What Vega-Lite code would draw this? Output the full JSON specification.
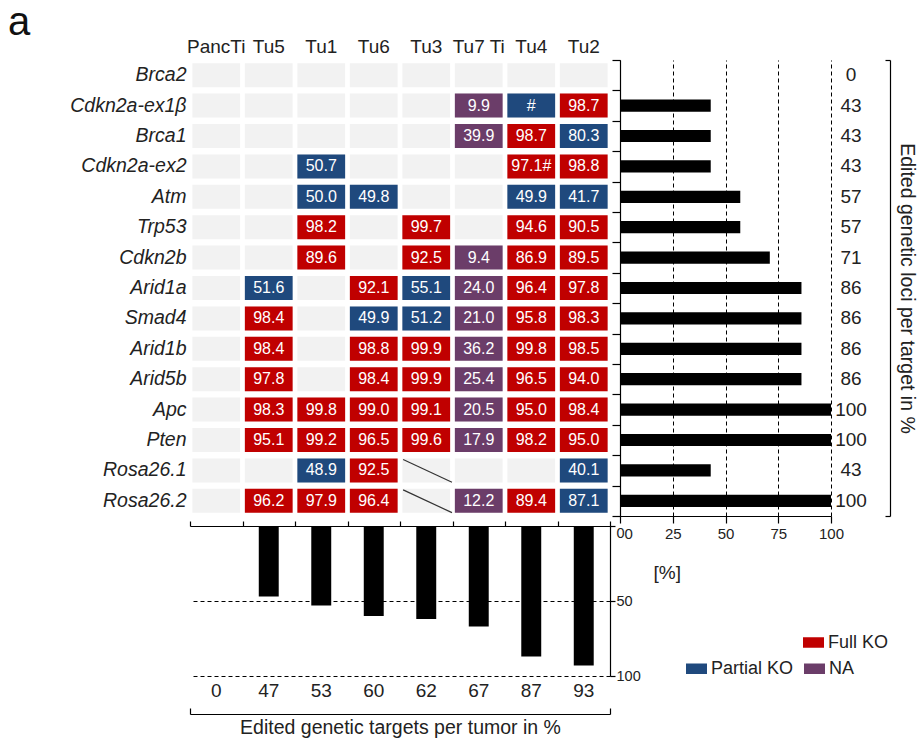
{
  "$schema": "https://vega.github.io/schema/vega-lite/v6.json",
  "padding": {"left": 8, "top": 3, "right": 2, "bottom": 2},
  "title": {"text": "a", "anchor": "start", "frame": "group", "fontSize": 40, "fontWeight": "normal", "color": "#111", "dx": -182, "offset": -6},
  "datasets": {
    "cells": [
      {"gene": "Brca2", "tumor": "PancTi"}, {"gene": "Brca2", "tumor": "Tu5"}, {"gene": "Brca2", "tumor": "Tu1"}, {"gene": "Brca2", "tumor": "Tu6"},
      {"gene": "Brca2", "tumor": "Tu3"}, {"gene": "Brca2", "tumor": "Tu7 Ti"}, {"gene": "Brca2", "tumor": "Tu4"}, {"gene": "Brca2", "tumor": "Tu2"},
      {"gene": "Cdkn2a-ex1β", "tumor": "PancTi"}, {"gene": "Cdkn2a-ex1β", "tumor": "Tu5"}, {"gene": "Cdkn2a-ex1β", "tumor": "Tu1"}, {"gene": "Cdkn2a-ex1β", "tumor": "Tu6"},
      {"gene": "Cdkn2a-ex1β", "tumor": "Tu3"}, {"gene": "Cdkn2a-ex1β", "tumor": "Tu7 Ti", "value": "9.9", "status": "NA"},
      {"gene": "Cdkn2a-ex1β", "tumor": "Tu4", "value": "#", "status": "Partial KO"}, {"gene": "Cdkn2a-ex1β", "tumor": "Tu2", "value": "98.7", "status": "Full KO"},
      {"gene": "Brca1", "tumor": "PancTi"}, {"gene": "Brca1", "tumor": "Tu5"}, {"gene": "Brca1", "tumor": "Tu1"}, {"gene": "Brca1", "tumor": "Tu6"},
      {"gene": "Brca1", "tumor": "Tu3"}, {"gene": "Brca1", "tumor": "Tu7 Ti", "value": "39.9", "status": "NA"},
      {"gene": "Brca1", "tumor": "Tu4", "value": "98.7", "status": "Full KO"}, {"gene": "Brca1", "tumor": "Tu2", "value": "80.3", "status": "Partial KO"},
      {"gene": "Cdkn2a-ex2", "tumor": "PancTi"}, {"gene": "Cdkn2a-ex2", "tumor": "Tu5"}, {"gene": "Cdkn2a-ex2", "tumor": "Tu1", "value": "50.7", "status": "Partial KO"},
      {"gene": "Cdkn2a-ex2", "tumor": "Tu6"}, {"gene": "Cdkn2a-ex2", "tumor": "Tu3"}, {"gene": "Cdkn2a-ex2", "tumor": "Tu7 Ti"},
      {"gene": "Cdkn2a-ex2", "tumor": "Tu4", "value": "97.1#", "status": "Full KO"}, {"gene": "Cdkn2a-ex2", "tumor": "Tu2", "value": "98.8", "status": "Full KO"},
      {"gene": "Atm", "tumor": "PancTi"}, {"gene": "Atm", "tumor": "Tu5"}, {"gene": "Atm", "tumor": "Tu1", "value": "50.0", "status": "Partial KO"},
      {"gene": "Atm", "tumor": "Tu6", "value": "49.8", "status": "Partial KO"}, {"gene": "Atm", "tumor": "Tu3"}, {"gene": "Atm", "tumor": "Tu7 Ti"},
      {"gene": "Atm", "tumor": "Tu4", "value": "49.9", "status": "Partial KO"}, {"gene": "Atm", "tumor": "Tu2", "value": "41.7", "status": "Partial KO"},
      {"gene": "Trp53", "tumor": "PancTi"}, {"gene": "Trp53", "tumor": "Tu5"}, {"gene": "Trp53", "tumor": "Tu1", "value": "98.2", "status": "Full KO"},
      {"gene": "Trp53", "tumor": "Tu6"}, {"gene": "Trp53", "tumor": "Tu3", "value": "99.7", "status": "Full KO"}, {"gene": "Trp53", "tumor": "Tu7 Ti"},
      {"gene": "Trp53", "tumor": "Tu4", "value": "94.6", "status": "Full KO"}, {"gene": "Trp53", "tumor": "Tu2", "value": "90.5", "status": "Full KO"},
      {"gene": "Cdkn2b", "tumor": "PancTi"}, {"gene": "Cdkn2b", "tumor": "Tu5"}, {"gene": "Cdkn2b", "tumor": "Tu1", "value": "89.6", "status": "Full KO"},
      {"gene": "Cdkn2b", "tumor": "Tu6"}, {"gene": "Cdkn2b", "tumor": "Tu3", "value": "92.5", "status": "Full KO"}, {"gene": "Cdkn2b", "tumor": "Tu7 Ti", "value": "9.4", "status": "NA"},
      {"gene": "Cdkn2b", "tumor": "Tu4", "value": "86.9", "status": "Full KO"}, {"gene": "Cdkn2b", "tumor": "Tu2", "value": "89.5", "status": "Full KO"},
      {"gene": "Arid1a", "tumor": "PancTi"}, {"gene": "Arid1a", "tumor": "Tu5", "value": "51.6", "status": "Partial KO"}, {"gene": "Arid1a", "tumor": "Tu1"},
      {"gene": "Arid1a", "tumor": "Tu6", "value": "92.1", "status": "Full KO"}, {"gene": "Arid1a", "tumor": "Tu3", "value": "55.1", "status": "Partial KO"},
      {"gene": "Arid1a", "tumor": "Tu7 Ti", "value": "24.0", "status": "NA"}, {"gene": "Arid1a", "tumor": "Tu4", "value": "96.4", "status": "Full KO"},
      {"gene": "Arid1a", "tumor": "Tu2", "value": "97.8", "status": "Full KO"},
      {"gene": "Smad4", "tumor": "PancTi"}, {"gene": "Smad4", "tumor": "Tu5", "value": "98.4", "status": "Full KO"}, {"gene": "Smad4", "tumor": "Tu1"},
      {"gene": "Smad4", "tumor": "Tu6", "value": "49.9", "status": "Partial KO"}, {"gene": "Smad4", "tumor": "Tu3", "value": "51.2", "status": "Partial KO"},
      {"gene": "Smad4", "tumor": "Tu7 Ti", "value": "21.0", "status": "NA"}, {"gene": "Smad4", "tumor": "Tu4", "value": "95.8", "status": "Full KO"},
      {"gene": "Smad4", "tumor": "Tu2", "value": "98.3", "status": "Full KO"},
      {"gene": "Arid1b", "tumor": "PancTi"}, {"gene": "Arid1b", "tumor": "Tu5", "value": "98.4", "status": "Full KO"}, {"gene": "Arid1b", "tumor": "Tu1"},
      {"gene": "Arid1b", "tumor": "Tu6", "value": "98.8", "status": "Full KO"}, {"gene": "Arid1b", "tumor": "Tu3", "value": "99.9", "status": "Full KO"},
      {"gene": "Arid1b", "tumor": "Tu7 Ti", "value": "36.2", "status": "NA"}, {"gene": "Arid1b", "tumor": "Tu4", "value": "99.8", "status": "Full KO"},
      {"gene": "Arid1b", "tumor": "Tu2", "value": "98.5", "status": "Full KO"},
      {"gene": "Arid5b", "tumor": "PancTi"}, {"gene": "Arid5b", "tumor": "Tu5", "value": "97.8", "status": "Full KO"}, {"gene": "Arid5b", "tumor": "Tu1"},
      {"gene": "Arid5b", "tumor": "Tu6", "value": "98.4", "status": "Full KO"}, {"gene": "Arid5b", "tumor": "Tu3", "value": "99.9", "status": "Full KO"},
      {"gene": "Arid5b", "tumor": "Tu7 Ti", "value": "25.4", "status": "NA"}, {"gene": "Arid5b", "tumor": "Tu4", "value": "96.5", "status": "Full KO"},
      {"gene": "Arid5b", "tumor": "Tu2", "value": "94.0", "status": "Full KO"},
      {"gene": "Apc", "tumor": "PancTi"}, {"gene": "Apc", "tumor": "Tu5", "value": "98.3", "status": "Full KO"}, {"gene": "Apc", "tumor": "Tu1", "value": "99.8", "status": "Full KO"},
      {"gene": "Apc", "tumor": "Tu6", "value": "99.0", "status": "Full KO"}, {"gene": "Apc", "tumor": "Tu3", "value": "99.1", "status": "Full KO"},
      {"gene": "Apc", "tumor": "Tu7 Ti", "value": "20.5", "status": "NA"}, {"gene": "Apc", "tumor": "Tu4", "value": "95.0", "status": "Full KO"},
      {"gene": "Apc", "tumor": "Tu2", "value": "98.4", "status": "Full KO"},
      {"gene": "Pten", "tumor": "PancTi"}, {"gene": "Pten", "tumor": "Tu5", "value": "95.1", "status": "Full KO"}, {"gene": "Pten", "tumor": "Tu1", "value": "99.2", "status": "Full KO"},
      {"gene": "Pten", "tumor": "Tu6", "value": "96.5", "status": "Full KO"}, {"gene": "Pten", "tumor": "Tu3", "value": "99.6", "status": "Full KO"},
      {"gene": "Pten", "tumor": "Tu7 Ti", "value": "17.9", "status": "NA"}, {"gene": "Pten", "tumor": "Tu4", "value": "98.2", "status": "Full KO"},
      {"gene": "Pten", "tumor": "Tu2", "value": "95.0", "status": "Full KO"},
      {"gene": "Rosa26.1", "tumor": "PancTi"}, {"gene": "Rosa26.1", "tumor": "Tu5"}, {"gene": "Rosa26.1", "tumor": "Tu1", "value": "48.9", "status": "Partial KO"},
      {"gene": "Rosa26.1", "tumor": "Tu6", "value": "92.5", "status": "Full KO"}, {"gene": "Rosa26.1", "tumor": "Tu3", "status": "excluded"},
      {"gene": "Rosa26.1", "tumor": "Tu7 Ti"}, {"gene": "Rosa26.1", "tumor": "Tu4"}, {"gene": "Rosa26.1", "tumor": "Tu2", "value": "40.1", "status": "Partial KO"},
      {"gene": "Rosa26.2", "tumor": "PancTi"}, {"gene": "Rosa26.2", "tumor": "Tu5", "value": "96.2", "status": "Full KO"}, {"gene": "Rosa26.2", "tumor": "Tu1", "value": "97.9", "status": "Full KO"},
      {"gene": "Rosa26.2", "tumor": "Tu6", "value": "96.4", "status": "Full KO"}, {"gene": "Rosa26.2", "tumor": "Tu3", "status": "excluded"},
      {"gene": "Rosa26.2", "tumor": "Tu7 Ti", "value": "12.2", "status": "NA"}, {"gene": "Rosa26.2", "tumor": "Tu4", "value": "89.4", "status": "Full KO"},
      {"gene": "Rosa26.2", "tumor": "Tu2", "value": "87.1", "status": "Partial KO"}
    ],
    "loci": [
      {"gene": "Brca2", "loci": 0}, {"gene": "Cdkn2a-ex1β", "loci": 43}, {"gene": "Brca1", "loci": 43}, {"gene": "Cdkn2a-ex2", "loci": 43},
      {"gene": "Atm", "loci": 57}, {"gene": "Trp53", "loci": 57}, {"gene": "Cdkn2b", "loci": 71}, {"gene": "Arid1a", "loci": 86},
      {"gene": "Smad4", "loci": 86}, {"gene": "Arid1b", "loci": 86}, {"gene": "Arid5b", "loci": 86}, {"gene": "Apc", "loci": 100},
      {"gene": "Pten", "loci": 100}, {"gene": "Rosa26.1", "loci": 43}, {"gene": "Rosa26.2", "loci": 100}
    ],
    "targets": [
      {"tumor": "PancTi", "pct": 0}, {"tumor": "Tu5", "pct": 47}, {"tumor": "Tu1", "pct": 53}, {"tumor": "Tu6", "pct": 60},
      {"tumor": "Tu3", "pct": 62}, {"tumor": "Tu7 Ti", "pct": 67}, {"tumor": "Tu4", "pct": 87}, {"tumor": "Tu2", "pct": 93}
    ]
  },
  "columns": 2,
  "bounds": "flush",
  "spacing": {"row": 10, "column": 10},
  "concat": [
    {
      "width": 420,
      "height": 456,
      "data": {"name": "cells"},
      "encoding": {
        "x": {"field": "tumor", "type": "nominal",
          "scale": {"domain": ["PancTi", "Tu5", "Tu1", "Tu6", "Tu3", "Tu7 Ti", "Tu4", "Tu2"], "paddingInner": 0, "paddingOuter": 0},
          "axis": {"orient": "top", "title": null, "ticks": false, "domain": false, "labelAngle": 0, "labelFontSize": 19, "labelPadding": 4}},
        "y": {"field": "gene", "type": "nominal",
          "scale": {"domain": ["Brca2", "Cdkn2a-ex1β", "Brca1", "Cdkn2a-ex2", "Atm", "Trp53", "Cdkn2b", "Arid1a", "Smad4", "Arid1b", "Arid5b", "Apc", "Pten", "Rosa26.1", "Rosa26.2"], "paddingInner": 0, "paddingOuter": 0},
          "axis": {"orient": "left", "title": null, "ticks": false, "domain": false, "labelFontSize": 19.5, "labelFontStyle": "italic", "labelPadding": 4}}
      },
      "layer": [
        {"mark": {"type": "rect", "color": "#f2f2f2", "width": {"band": 0.91}, "height": {"band": 0.79}}},
        {
          "transform": [{"filter": "datum.status === 'Full KO'"}],
          "mark": {"type": "rect", "width": {"band": 0.91}, "height": {"band": 0.79}, "opacity": 1},
          "encoding": {"color": {"field": "status", "type": "nominal",
            "scale": {"domain": ["Full KO"], "range": ["#c00000"]},
            "legend": {"title": null, "orient": "none", "legendX": 613, "legendY": 572}}}
        },
        {
          "transform": [{"filter": "datum.status === 'Partial KO' || datum.status === 'NA'"}],
          "mark": {"type": "rect", "width": {"band": 0.91}, "height": {"band": 0.79}, "opacity": 1},
          "encoding": {"color": {"field": "status", "type": "nominal",
            "scale": {"domain": ["Partial KO", "NA"], "range": ["#1f497d", "#6b3d69"]},
            "legend": {"title": null, "orient": "none", "direction": "horizontal", "legendX": 496, "legendY": 598, "columnPadding": 10}}}
        },
        {
          "transform": [{"filter": "isValid(datum.value)"}],
          "mark": {"type": "text", "color": "white", "fontSize": 16},
          "encoding": {"text": {"field": "value", "type": "nominal"}}
        },
        {
          "transform": [{"filter": "datum.status === 'excluded'"}],
          "mark": {"type": "rule", "color": "#333", "strokeWidth": 1.2},
          "encoding": {
            "x": {"field": "tumor", "type": "nominal", "bandPosition": 0.06,
              "scale": {"domain": ["PancTi", "Tu5", "Tu1", "Tu6", "Tu3", "Tu7 Ti", "Tu4", "Tu2"], "paddingInner": 0, "paddingOuter": 0},
              "axis": {"orient": "top", "title": null, "ticks": false, "domain": false, "labelAngle": 0, "labelFontSize": 19, "labelPadding": 4}},
            "x2": {"field": "tumor", "bandPosition": 0.99},
            "y": {"field": "gene", "type": "nominal", "bandPosition": 0.14,
              "scale": {"domain": ["Brca2", "Cdkn2a-ex1β", "Brca1", "Cdkn2a-ex2", "Atm", "Trp53", "Cdkn2b", "Arid1a", "Smad4", "Arid1b", "Arid5b", "Apc", "Pten", "Rosa26.1", "Rosa26.2"], "paddingInner": 0, "paddingOuter": 0},
              "axis": {"orient": "left", "title": null, "ticks": false, "domain": false, "labelFontSize": 19.5, "labelFontStyle": "italic", "labelPadding": 4}},
            "y2": {"field": "gene", "bandPosition": 0.89}
          }
        }
      ],
      "resolve": {"scale": {"color": "independent"}, "legend": {"color": "independent"}}
    },
    {
      "width": 211,
      "height": 456,
      "data": {"name": "loci"},
      "encoding": {
        "x": {"field": "loci", "type": "quantitative", "scale": {"domain": [0, 100], "nice": false},
          "axis": {"orient": "bottom", "values": [0, 25, 50, 75, 100], "grid": true, "gridDash": [4, 3], "gridColor": "black", "tickSize": 7, "labelFontSize": 15, "labelPadding": 3, "labelFlush": false,
            "labelAlign": {"condition": {"test": "datum.value === 0", "value": "left"}, "value": "center"},
            "labelOffset": {"condition": {"test": "datum.value === 0", "value": 4}, "value": 0},
            "title": "[%]", "titleAnchor": "start", "titleAlign": "left", "titleX": 33, "titleY": 47, "titleBaseline": "top", "titleFontSize": 19, "titleFontWeight": "normal"}}
      },
      "layer": [
        {
          "mark": {"type": "bar", "color": "black", "height": {"band": 0.4}},
          "encoding": {
            "y": {"field": "gene", "type": "nominal",
              "scale": {"domain": ["Brca2", "Cdkn2a-ex1β", "Brca1", "Cdkn2a-ex2", "Atm", "Trp53", "Cdkn2b", "Arid1a", "Smad4", "Arid1b", "Arid5b", "Apc", "Pten", "Rosa26.1", "Rosa26.2"], "paddingInner": 0, "paddingOuter": 0},
              "axis": {"orient": "left", "labels": false, "title": null, "tickBand": "extent", "tickSize": 8}}
          }
        },
        {
          "mark": {"type": "text", "dx": 20, "fontSize": 19, "align": "center", "color": "#222"},
          "encoding": {
            "x": {"datum": 100, "type": "quantitative", "scale": {"domain": [0, 100], "nice": false},
              "axis": {"orient": "bottom", "values": [0, 25, 50, 75, 100], "grid": true, "gridDash": [4, 3], "gridColor": "black", "tickSize": 7, "labelFontSize": 15, "labelPadding": 3, "labelFlush": false,
                "labelAlign": {"condition": {"test": "datum.value === 0", "value": "left"}, "value": "center"},
                "labelOffset": {"condition": {"test": "datum.value === 0", "value": 4}, "value": 0},
                "title": "[%]", "titleAnchor": "start", "titleAlign": "left", "titleX": 33, "titleY": 47, "titleBaseline": "top", "titleFontSize": 19, "titleFontWeight": "normal"}},
            "y": {"field": "gene", "type": "nominal",
              "scale": {"domain": ["Brca2", "Cdkn2a-ex1β", "Brca1", "Cdkn2a-ex2", "Atm", "Trp53", "Cdkn2b", "Arid1a", "Smad4", "Arid1b", "Arid5b", "Apc", "Pten", "Rosa26.1", "Rosa26.2"], "paddingInner": 0, "paddingOuter": 0},
              "axis": {"orient": "right", "offset": 59, "labels": false, "tickBand": "extent", "tickSize": -5,
                "tickOpacity": {"condition": {"test": "datum.index === -1 || datum.index === 1", "value": 1}, "value": 0},
                "title": "Edited genetic loci per target in %", "titleAngle": 90, "titleFontSize": 19.5, "titleFontWeight": "normal", "titlePadding": 6}},
            "text": {"field": "loci", "type": "quantitative"}
          }
        }
      ]
    },
    {
      "width": 420,
      "height": 150,
      "data": {"name": "targets"},
      "encoding": {
        "y": {"field": "pct", "type": "quantitative", "scale": {"domain": [0, 100], "reverse": true, "nice": false},
          "axis": {"orient": "right", "values": [0, 50, 100], "grid": true, "gridDash": [4, 3], "gridColor": "black", "tickSize": 5, "labelFontSize": 14.5, "labelPadding": 1, "labelFlush": false,
            "labelBaseline": {"condition": {"test": "datum.value === 0", "value": "top"}, "value": "middle"}, "title": null}}
      },
      "layer": [
        {
          "mark": {"type": "bar", "color": "black", "width": {"band": 0.38}},
          "encoding": {
            "x": {"field": "tumor", "type": "nominal",
              "scale": {"domain": ["PancTi", "Tu5", "Tu1", "Tu6", "Tu3", "Tu7 Ti", "Tu4", "Tu2"], "paddingInner": 0, "paddingOuter": 0},
              "axis": {"orient": "top", "labels": false, "title": null, "tickBand": "extent", "tickSize": 5}}
          }
        },
        {
          "mark": {"type": "text", "dy": 15, "fontSize": 19, "color": "#222"},
          "encoding": {
            "x": {"field": "tumor", "type": "nominal",
              "scale": {"domain": ["PancTi", "Tu5", "Tu1", "Tu6", "Tu3", "Tu7 Ti", "Tu4", "Tu2"], "paddingInner": 0, "paddingOuter": 0},
              "axis": {"orient": "bottom", "offset": 38, "labels": false, "tickBand": "extent", "tickSize": -6,
                "tickOpacity": {"condition": {"test": "datum.index === -1 || datum.index === 1", "value": 1}, "value": 0},
                "title": "Edited genetic targets per tumor in %", "titleFontSize": 19.5, "titleFontWeight": "normal", "titlePadding": 4}},
            "y": {"datum": 100, "type": "quantitative", "scale": {"domain": [0, 100], "reverse": true, "nice": false},
              "axis": {"orient": "right", "values": [0, 50, 100], "grid": true, "gridDash": [4, 3], "gridColor": "black", "tickSize": 5, "labelFontSize": 14.5, "labelPadding": 1, "labelFlush": false,
                "labelBaseline": {"condition": {"test": "datum.value === 0", "value": "top"}, "value": "middle"}, "title": null}},
            "text": {"field": "pct", "type": "quantitative"}
          }
        }
      ]
    }
  ],
  "config": {
    "font": "Liberation Sans",
    "view": {"stroke": null},
    "axis": {"domainColor": "black", "tickColor": "black", "labelColor": "#222", "titleColor": "#222", "labelFont": "Liberation Sans", "titleFont": "Liberation Sans", "domainWidth": 1.2, "tickWidth": 1.2},
    "legend": {"padding": 0, "labelFontSize": 18, "labelColor": "#222", "labelFont": "Liberation Sans", "symbolType": "M-1,-0.5L1,-0.5L1,0.5L-1,0.5Z", "symbolSize": 441, "symbolStrokeWidth": 0, "symbolOpacity": 1, "labelOffset": 4},
    "text": {"font": "Liberation Sans"},
    "title": {"font": "Liberation Sans"}
  }
}
